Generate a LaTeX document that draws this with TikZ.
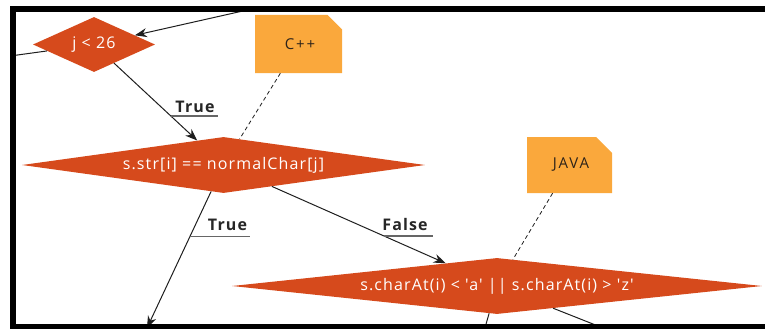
\documentclass[tikz,border=0pt]{standalone}
\usepackage{fontspec}
\setmainfont{Open Sans}
\newfontfamily\dfont{Open Sans}[LetterSpace=7]
\newfontfamily\nfont{Open Sans}[LetterSpace=12]
\usetikzlibrary{shapes.geometric,shapes.misc,arrows.meta,calc}
\definecolor{dia}{RGB}{214,74,28}
\definecolor{notec}{RGB}{250,168,60}
\definecolor{edgec}{RGB}{30,30,30}
\definecolor{notetext}{RGB}{45,35,25}
\begin{document}
\begin{tikzpicture}[x=1pt,y=-1pt,
  decision/.style={diamond, fill=dia, text=white, inner sep=0pt, font=\dfont\fontsize{16}{18}\selectfont},
  notebox/.style={chamfered rectangle, chamfered rectangle corners=north east,
    chamfered rectangle xsep=9pt, chamfered rectangle ysep=9pt, fill=notec,
    inner sep=0pt, text=notetext, font=\nfont\fontsize{15}{17}\selectfont},
  flow/.style={draw=edgec, line width=1pt, -{Stealth[length=12pt,width=9pt]}},
  plainflow/.style={draw=edgec, line width=1pt},
  assoc/.style={draw=edgec, line width=0.8pt, dash pattern=on 4pt off 3pt},
  lbl/.style={font=\dfont\bfseries\fontsize{16}{18}\selectfont, text=black!85, anchor=base},
  uline/.style={draw=black!60, line width=1.6pt},
  frame/.style={fill=black}]
\useasboundingbox (0,0) rectangle (765,329);
\begin{scope}
\clip (16,12) rectangle (765,324);
% nodes
\node[decision, shape aspect=2.218, minimum width=122pt, minimum height=55pt] (j26) at (94,44.5) {j < 26};
\node[notebox, minimum width=87pt, minimum height=58pt] (cpp) at (298.5,44) {\hspace*{3pt}C++};
\node[decision, shape aspect=7.196, minimum width=403pt, minimum height=56pt] (sstr) at (223.5,165) {s.str[i] == normalChar[j]};
\node[notebox, minimum width=85pt, minimum height=56pt] (java) at (569.5,165) {\hspace*{3pt}JAVA};
\node[decision, shape aspect=9.464, minimum width=530pt, minimum height=56pt] (cond) at (497,286) {s.charAt(i) < 'a' || s.charAt(i) > 'z'};
% free ends
\coordinate (inA) at (265,6);
\coordinate (outL) at (0,57.4);
\coordinate (t1) at (147,328);
\coordinate (b1) at (480,345);
\coordinate (b2) at (646,345);
% connectors
\draw[flow] (inA) -- (j26);
\draw[plainflow] (j26) -- (outL);
\draw[flow] (j26) -- (sstr);
\draw[flow] (sstr) -- (t1);
\draw[flow] (sstr) -- (cond);
\draw[flow] (cond) -- (b1);
\draw[flow] (cond) -- (b2);
\draw[assoc] (cpp) -- (sstr);
\draw[assoc] (java) -- (cond);
% labels
\node[lbl] (lblT1) at (195,112) {True};
\draw[uline] ($(j26)!0.593!(sstr)$) -- ++(47,0);
\node[lbl] (lblT2) at (227.5,230.5) {True};
\draw[uline] ($(sstr)!0.438!(t1)$) -- ++(60,0);
\node[lbl] (lblF) at (405,230.5) {False};
\draw[uline] ($(sstr)!0.587!(cond)$) -- ++(49,0);
\end{scope}
% frame
\fill[frame] (10,6) rectangle (765,12);
\fill[frame] (10,6) rectangle (16,329);
\fill[frame] (10,324) rectangle (765,329);
\end{tikzpicture}
\end{document}
